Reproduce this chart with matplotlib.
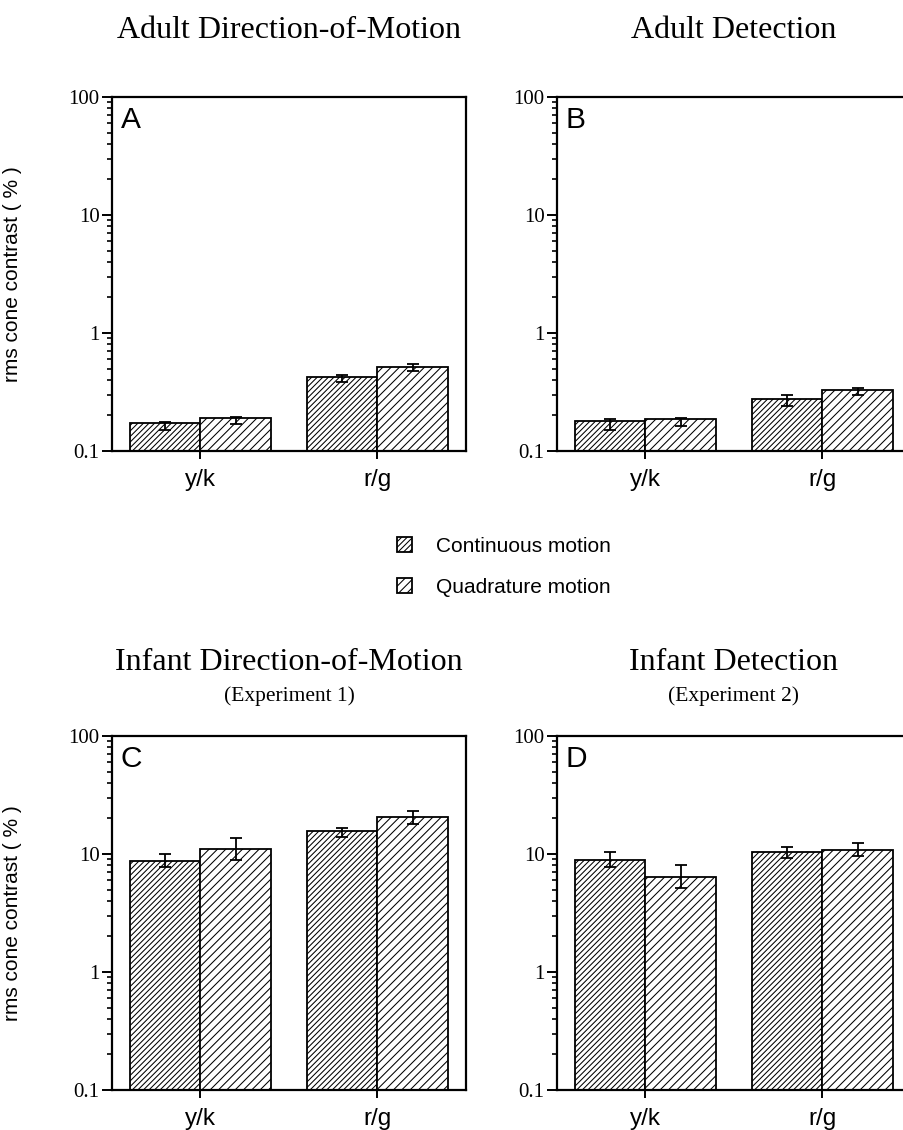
import matplotlib
matplotlib.use("Agg")
import matplotlib.pyplot as plt
import numpy as np
from matplotlib.patches import Patch
from matplotlib.ticker import LogLocator, NullFormatter, FixedLocator

# ---------------- data ----------------
categories = ["y/k", "r/g"]
series_names = ["Continuous motion", "Quadrature motion"]

panel_letters = ["A", "B", "C", "D"]
panel_titles = ["Adult Direction-of-Motion", "Adult Detection",
                "Infant Direction-of-Motion", "Infant Detection"]
panel_subtitles = ["", "", "(Experiment 1)", "(Experiment 2)"]

a_cont = [0.163, 0.413]
a_cont_lo = [0.151, 0.384]
a_cont_hi = [0.175, 0.443]
a_quad = [0.181, 0.508]
a_quad_lo = [0.169, 0.478]
a_quad_hi = [0.193, 0.547]

b_cont = [0.168, 0.267]
b_cont_lo = [0.152, 0.242]
b_cont_hi = [0.186, 0.298]
b_quad = [0.176, 0.321]
b_quad_lo = [0.163, 0.296]
b_quad_hi = [0.189, 0.342]

c_cont = [8.67, 15.7]
c_cont_lo = [7.8, 14.0]
c_cont_hi = [9.93, 16.7]
c_quad = [11.1, 20.7]
c_quad_lo = [8.95, 17.9]
c_quad_hi = [13.6, 23.1]

d_cont = [8.95, 10.4]
d_cont_lo = [7.81, 9.2]
d_cont_hi = [10.3, 11.5]
d_quad = [6.34, 10.7]
d_quad_lo = [5.18, 9.6]
d_quad_hi = [8.07, 12.4]

ytick_vals = [0.1, 1, 10, 100]
ytick_labels = ["0.1", "1", "10", "100"]
ylabel = "rms cone contrast ( % )"

panels = [
    (a_cont, a_cont_lo, a_cont_hi, a_quad, a_quad_lo, a_quad_hi),
    (b_cont, b_cont_lo, b_cont_hi, b_quad, b_quad_lo, b_quad_hi),
    (c_cont, c_cont_lo, c_cont_hi, c_quad, c_quad_lo, c_quad_hi),
    (d_cont, d_cont_lo, d_cont_hi, d_quad, d_quad_lo, d_quad_hi),
]

# ---------------- style ----------------
SERIF = ["Liberation Serif", "DejaVu Serif"]
SANS = ["Liberation Sans", "DejaVu Sans"]
plt.rcParams["hatch.linewidth"] = 0.75
plt.rcParams["font.family"] = SANS

W, H = 904, 1130
fig = plt.figure(figsize=(W / 100, H / 100), dpi=100)
fig.patch.set_facecolor("white")

# axes boxes in pixels: (left, top)
boxes = [(112, 97), (557, 97), (112, 736), (557, 736)]
size = 354
hatches = ["//////", "////"]
bw = 0.4
x = np.arange(len(categories))

for i, (ax_left, ax_top) in enumerate(boxes):
    ax = fig.add_axes([ax_left / W, 1 - (ax_top + size) / H, size / W, size / H])
    cont, clo, chi, quad, qlo, qhi = panels[i]
    ax.set_yscale("log")
    for vals, lo, hi, off, hat in [(cont, clo, chi, -bw / 2, hatches[0]),
                                   (quad, qlo, qhi, bw / 2, hatches[1])]:
        vals = np.array(vals); lo = np.array(lo); hi = np.array(hi)
        ax.bar(x + off, vals, width=bw, bottom=0.01, facecolor="white",
               edgecolor="black", linewidth=1.3, hatch=hat, zorder=2)
        ax.errorbar(x + off, vals, yerr=[vals - lo, hi - vals], fmt="none",
                    ecolor="black", elinewidth=1.3, capsize=4.5, capthick=1.3,
                    zorder=3)
    ax.set_ylim(0.1, 100)
    ax.set_xlim(-0.5, 1.5)
    ax.yaxis.set_major_locator(FixedLocator(ytick_vals))
    ax.set_yticklabels(ytick_labels, fontfamily=SERIF, fontsize=15)
    ax.yaxis.set_minor_locator(LogLocator(base=10, subs=np.arange(2, 10)))
    ax.yaxis.set_minor_formatter(NullFormatter())
    ax.set_xticks(x)
    ax.set_xticklabels(categories, fontfamily=SANS, fontsize=17.5)
    ax.tick_params(axis="y", which="major", direction="out", length=7, width=1.4,
                   pad=2, right=False)
    ax.tick_params(axis="y", which="minor", direction="out", length=3.5, width=1.2,
                   right=False)
    ax.tick_params(axis="x", which="major", direction="out", length=6, width=1.4,
                   pad=7, top=False)
    for sp in ax.spines.values():
        sp.set_linewidth(1.6)
        sp.set_zorder(4)
    ax.text(0.025, 0.975, panel_letters[i], transform=ax.transAxes, ha="left",
            va="top", fontsize=21.5, fontfamily=SANS)
    if i in (0, 2):
        ax.set_ylabel(ylabel, fontsize=15, fontfamily=SANS)
        ax.yaxis.set_label_coords(-0.255, 0.5)

    cx = (ax_left + size / 2) / W
    if panel_subtitles[i]:
        fig.text(cx, 1 - 663 / H, panel_titles[i], ha="center", va="center",
                 fontsize=23, fontfamily=SERIF)
        fig.text(cx, 1 - 696 / H, panel_subtitles[i], ha="center", va="center",
                 fontsize=15.5, fontfamily=SERIF)
    else:
        fig.text(cx, 1 - 30 / H, panel_titles[i], ha="center", va="center",
                 fontsize=23, fontfamily=SERIF)

handles = [Patch(facecolor="white", edgecolor="black", hatch=hatches[0], linewidth=1.3),
           Patch(facecolor="white", edgecolor="black", hatch=hatches[1], linewidth=1.3)]
fig.legend(handles, series_names, loc="center", bbox_to_anchor=(504 / W, 1 - 567 / H),
           frameon=False, handlelength=0.7, handleheight=0.7, handletextpad=1.15,
           labelspacing=1.05, prop={"family": SANS, "size": 15})

fig.savefig("out.png", dpi=100, facecolor="white")
